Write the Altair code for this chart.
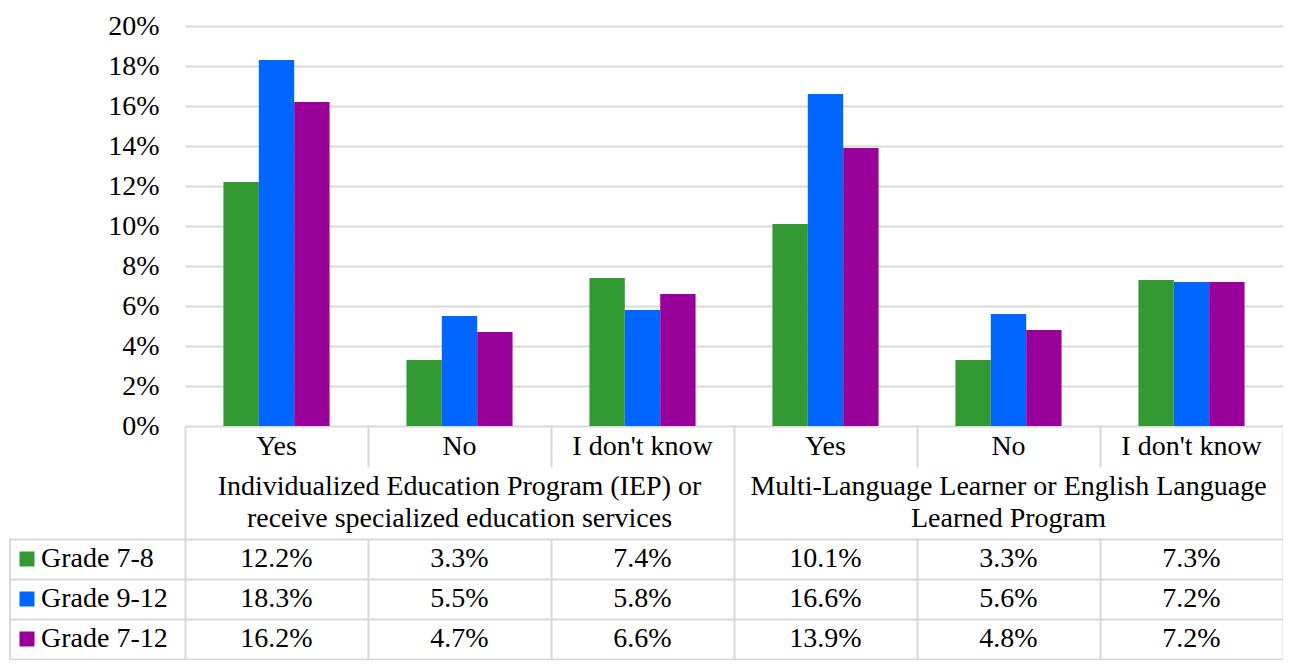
import altair as alt
import pandas as pd

# ---- data ----
grades = ["Grade  7-8", "Grade  9-12", "Grade  7-12"]
grade_colors = ["#339933", "#0066ff", "#990099"]
answers = ["Yes", "No", "I don't know"]
groups = [
    "Individualized Education Program (IEP) or\nreceive specialized education services",
    "Multi-Language Learner or English Language\nLearned Program",
]
grade_7_8 = [12.2, 3.3, 7.4, 10.1, 3.3, 7.3]
grade_9_12 = [18.3, 5.5, 5.8, 16.6, 5.6, 7.2]
grade_7_12 = [16.2, 4.7, 6.6, 13.9, 4.8, 7.2]
y_ticks = [0, 0.02, 0.04, 0.06, 0.08, 0.10, 0.12, 0.14, 0.16, 0.18, 0.20]

FONT = "Liberation Serif"
FS = 28
GRID = "#d9d9d9"
TXT = "#000000"
LEFT_COL = 176   # width of the table's label column (left of the plot area)
PLOT_W = 1098
ROW_H = [400, 41, 72, 120]

keys = [f"{gi}|{a}" for gi in range(len(groups)) for a in answers]
series = [grade_7_8, grade_9_12, grade_7_12]
rows = []
for grade, vals in zip(grades, series):
    for k, v in zip(keys, vals):
        rows.append({"key": k, "grade": grade, "value": v / 100})
df = pd.DataFrame(rows)
slot_df = pd.DataFrame({"key": keys, "answer": [a for _ in groups for a in answers]})
group_df = pd.DataFrame({"group": groups})
legend_df = pd.DataFrame({"grade": grades})

band = alt.Scale(paddingInner=0, paddingOuter=0)
grid_axis = dict(labels=False, ticks=False, domain=False, grid=True, gridColor=GRID,
                 gridWidth=2, tickBand="extent", title=None)
color = alt.Color("grade:N", sort=grades,
                  scale=alt.Scale(domain=grades, range=grade_colors), legend=None)

# ---- bar chart ----
GAP = 0.42
bars = alt.Chart(df).mark_bar().encode(
    x=alt.X("key:N", sort=keys,
            scale=alt.Scale(paddingInner=GAP, paddingOuter=GAP / 2),
            axis=alt.Axis(labels=False, ticks=False, domain=False, grid=False,
                          title=None)),
    xOffset=alt.XOffset("grade:N", sort=grades, scale=band),
    y=alt.Y("value:Q", scale=alt.Scale(domain=[0, 0.2], nice=False),
            axis=alt.Axis(values=y_ticks, format=".0%", grid=True, gridColor=GRID,
                          gridWidth=2, domain=False, ticks=False, labelFont=FONT,
                          labelFontSize=FS, labelColor=TXT, labelPadding=26, title=None)),
    color=color,
).properties(width=PLOT_W, height=ROW_H[0])

# ---- answer row ----
sub = alt.Chart(slot_df).mark_text(font=FONT, fontSize=FS, color=TXT).encode(
    x=alt.X("key:N", sort=keys, scale=band, axis=alt.Axis(**grid_axis)),
    text="answer:N",
).properties(width=PLOT_W, height=ROW_H[1])

# ---- group row ----
grp = alt.Chart(group_df).mark_text(font=FONT, fontSize=FS, color=TXT,
                                    lineBreak="\n", lineHeight=32, dy=-16).encode(
    x=alt.X("group:N", sort=groups, scale=band, axis=alt.Axis(**grid_axis)),
    text="group:N",
).properties(width=PLOT_W, height=ROW_H[2])

# ---- data table (with its label column to the left) ----
row_axis = dict(grid_axis)
row_axis.update(ticks=True, tickSize=LEFT_COL, tickColor=GRID, tickWidth=2)
y_row = alt.Y("grade:N", sort=grades, scale=band, axis=alt.Axis(**row_axis))

cells = alt.Chart(df).mark_text(font=FONT, fontSize=FS, color=TXT).encode(
    x=alt.X("key:N", sort=keys, scale=band, axis=alt.Axis(**grid_axis)),
    y=y_row,
    text=alt.Text("value:Q", format=".1%"),
)
leg_sq = alt.Chart(legend_df).mark_point(shape="square", filled=True, size=225,
                                         opacity=1).encode(
    x=alt.value(18 - LEFT_COL), y=y_row, color=color,
)
leg_tx = alt.Chart(legend_df).mark_text(font=FONT, fontSize=FS, color=TXT,
                                        align="left").encode(
    x=alt.value(32 - LEFT_COL), y=y_row, text="grade:N",
)
left_border = alt.Chart(legend_df.head(1)).mark_rule(color=GRID, strokeWidth=2).encode(
    x=alt.value(1 - LEFT_COL),
)
table = alt.layer(cells, leg_sq, leg_tx, left_border).properties(
    width=PLOT_W, height=ROW_H[3])

chart = alt.vconcat(bars, sub, grp, table, spacing=0, bounds="flush").resolve_scale(
    x="independent", y="independent"
).properties(
    padding={"left": 0, "top": 4, "right": 0, "bottom": 0},
).configure_view(stroke=None)

chart.save("out.html", embed_options={"renderer": "svg", "actions": False})
